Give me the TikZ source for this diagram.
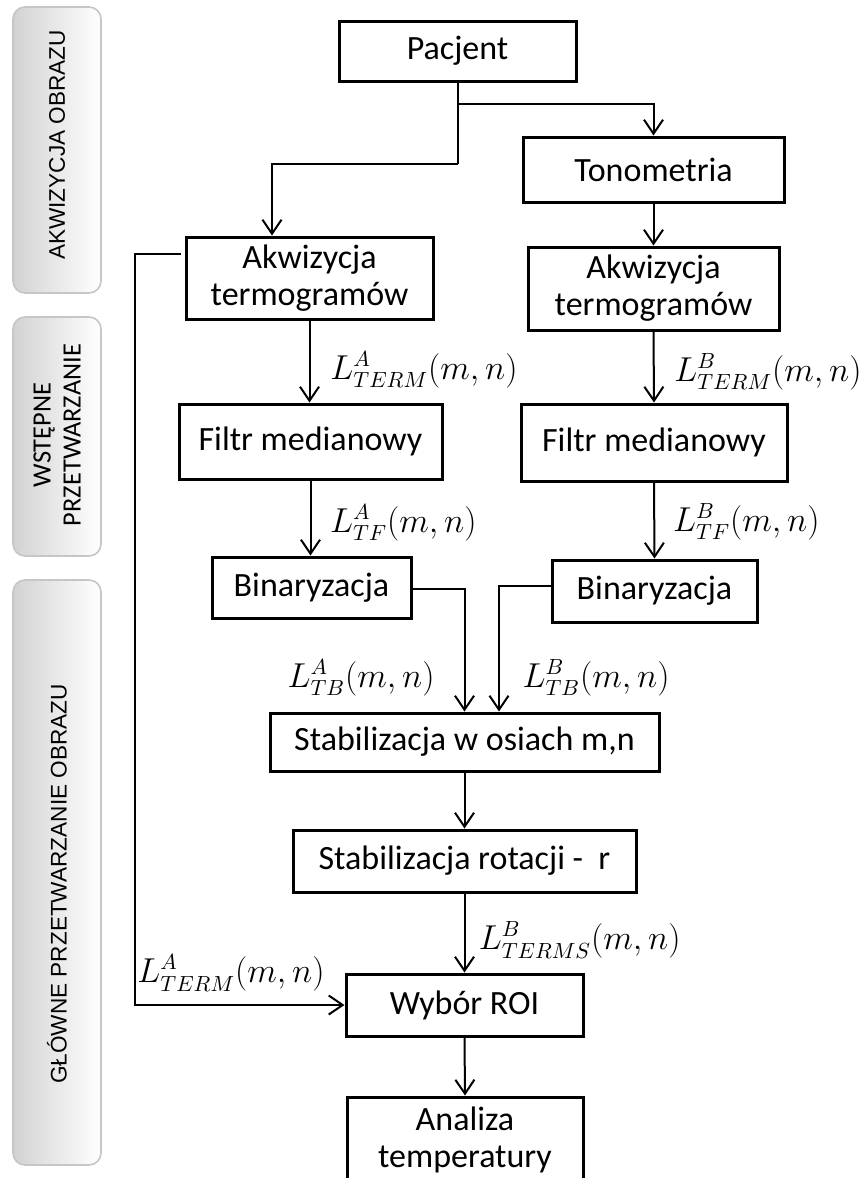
\documentclass[tikz,border=0pt]{standalone}
\usepackage{fontspec}
\setmainfont{Carlito}
\newfontfamily\arialf{Liberation Sans}
\usetikzlibrary{arrows.meta,calc}
\begin{document}
\begin{tikzpicture}[x=0.5pt,y=-0.5pt,
 box/.style={draw,line width=1.5pt,inner sep=0pt,align=center,font=\fontsize{17}{18.5}\selectfont},
 conn/.style={line width=1pt},
 arr/.style={conn,-{Straight Barb[length=7pt,width=9.5pt]}},
 lab/.style={anchor=east,inner sep=0pt,font=\fontsize{16}{19}\selectfont},
 panel/.style={draw=gray!45,line width=0.8pt,rounded corners=6pt,left color=gray!35,right color=white},
 ptext/.style={rotate=90,inner sep=0pt,align=center}]
\useasboundingbox (0,0) rectangle (866,1178);

% side panels
\draw[panel] (13,7) rectangle (101,293);
\draw[panel] (13,317) rectangle (101,556);
\draw[panel] (13,580) rectangle (101,1165);
\node[ptext,font=\arialf\fontsize{11.3}{13}\selectfont] (p1) at (57,145) {AKWIZYCJA OBRAZU};
\node[ptext,font=\fontsize{13.2}{15}\selectfont] (p2) at (57,435) {WSTĘPNE\\PRZETWARZANIE};
\node[ptext,font=\arialf\fontsize{11.3}{13}\selectfont] (p3) at (57,884) {GŁÓWNE PRZETWARZANIE OBRAZU};

% boxes
\node[box,minimum width=118.5pt,minimum height=30pt] (pac) at (457.5,51) {Pacjent};
\node[box,minimum width=130.5pt,minimum height=32.5pt] (ton) at (653.5,169.5) {Tonometria};
\node[box,minimum width=123.5pt,minimum height=41pt] (akwA) at (309.5,278) {Akwizycja\\termogramów};
\node[box,minimum width=125.5pt,minimum height=41.5pt] (akwB) at (653.5,288.5) {Akwizycja\\termogramów};
\node[box,minimum width=131.5pt,minimum height=37.5pt] (filA) at (310.5,441.5) {Filtr medianowy};
\node[box,minimum width=133pt,minimum height=38.5pt] (filB) at (654,442.5) {Filtr medianowy};
\node[box,minimum width=99.5pt,minimum height=30.5pt] (binA) at (311.5,587.5) {Binaryzacja};
\node[box,minimum width=102.5pt,minimum height=31pt] (binB) at (654.5,591) {Binaryzacja};
\node[box,minimum width=194.5pt,minimum height=29pt] (stab1) at (464.5,742) {Stabilizacja w osiach m,n};
\node[box,minimum width=171.5pt,minimum height=31pt] (stab2) at (464.5,861) {Stabilizacja rotacji -\ \ r};
\node[box,minimum width=118.5pt,minimum height=31pt] (roi) at (464.5,1005) {Wybór ROI};
\node[box,minimum width=118pt,minimum height=43pt] (ana) at (465,1140) {Analiza\\temperatury};

% connectors
\coordinate (j0) at (457.5,104);
\coordinate (j1) at (457.5,164);
\coordinate (j2) at (272,164);
\draw[conn] (pac.south) -- (j1);
\draw[arr] (j1) -- (j2) -- (akwA.north -| j2);
\draw[arr] (j0) -| (ton.north);
\draw[arr] (ton.south) -- (akwB.north);
\draw[arr] (akwB.south) -- (filB.north);
\draw[arr] (filB.south) -- (binB.north);
\draw[arr] (akwA.south) -- (akwA.south |- filA.north);
\draw[arr] (filA.south) -- (filA.south |- binA.north);
\coordinate (jb) at (499,586);
\draw[arr] ([yshift=-0.5pt]binA.east) -| (stab1.north);
\draw[arr] ([yshift=2.5pt]binB.west) -| (stab1.north -| jb);
\draw[arr] (stab1.south) -- (stab2.north);
\draw[arr] (stab2.south) -- (roi.north);
\draw[arr] (roi.south) -- (ana.north);
\coordinate (c1) at (135,254);
\coordinate (c2) at (135,1005);
\draw[arr] ([xshift=-2pt,yshift=12pt]akwA.west) -- (c1) -- (c2) -- (roi.west);

% labels
\node[lab] (l1) at (518,370) {$L^{A}_{TERM}(m,n)$};
\node[lab] (l2) at (862,372) {$L^{B}_{TERM}(m,n)$};
\node[lab] (l3) at (477,523) {$L^{A}_{TF}(m,n)$};
\node[lab] (l4) at (820,522) {$L^{B}_{TF}(m,n)$};
\node[lab] (l5) at (435,678) {$L^{A}_{TB}(m,n)$};
\node[lab] (l6) at (670,678) {$L^{B}_{TB}(m,n)$};
\node[lab] (l7) at (681,940) {$L^{B}_{TERMS}(m,n)$};
\node[lab] (l8) at (325,973) {$L^{A}_{TERM}(m,n)$};
\end{tikzpicture}
\end{document}
